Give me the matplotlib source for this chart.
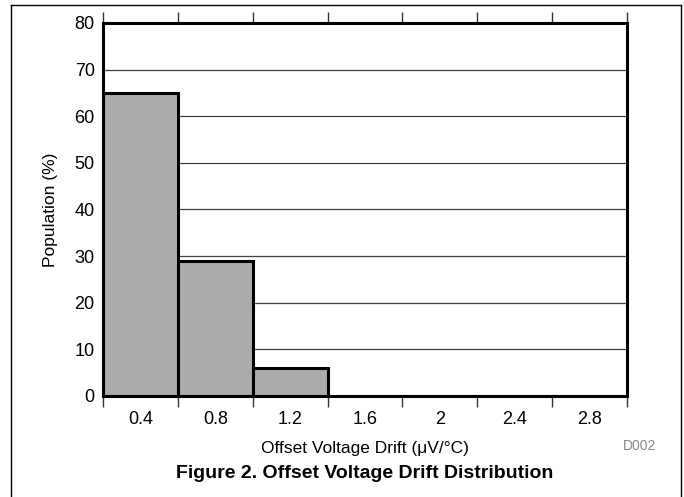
import numpy as np
import matplotlib.pyplot as plt
from matplotlib.lines import Line2D

plt.rcParams['font.family'] = ['Liberation Sans', 'DejaVu Sans']

# histogram bins (uV/degC) and population per bin (%)
bin_edges = [0.2, 0.6, 1.0, 1.4, 1.8, 2.2, 2.6, 3.0]
population = [65, 29, 6, 0, 0, 0, 0]
center_labels = ['0.4', '0.8', '1.2', '1.6', '2', '2.4', '2.8']
y_ticks = [0, 10, 20, 30, 40, 50, 60, 70, 80]

fig = plt.figure(figsize=(6.84, 4.97), dpi=100)
ax = fig.add_axes([103 / 684, 1 - 396 / 497, 524 / 684, 373 / 497])

edges = np.array(bin_edges)
widths = np.diff(edges)
centers = edges[:-1] + widths / 2

ax.set_axisbelow(True)
for y in y_ticks[1:-1]:
    ax.axhline(y, color='#404040', lw=0.9, zorder=0)

ax.bar(edges[:-1], population, width=widths, align='edge',
       color='#ababab', edgecolor='black', linewidth=2.2, zorder=2)

ax.set_xlim(edges[0], edges[-1])
ax.set_ylim(0, 80)

# edge ticks without labels, labels at bin centres
ax.set_xticks(edges)
ax.set_xticklabels([])
ax.set_xticks(centers, minor=True)
ax.set_xticklabels(center_labels, minor=True)
ax.tick_params(axis='x', which='major', direction='out', length=8,
               width=1, color='#333333', top=True, bottom=True)
ax.tick_params(axis='x', which='minor', length=0, pad=11, labelsize=13)

ax.set_yticks(y_ticks)
ax.tick_params(axis='y', length=0, pad=6, labelsize=13)

for side in ax.spines.values():
    side.set_linewidth(2.2)

ax.set_ylabel('Population (%)', fontsize=12.5, labelpad=12)
ax.set_xlabel('Offset Voltage Drift (\u03bcV/\u00b0C)', fontsize=12.5, labelpad=9)

fig.text(623 / 684, 1 - 446 / 497, 'D002', fontsize=10, color='#888888',
         ha='left', va='center')
fig.text(365 / 684, 1 - 474 / 497, 'Figure 2. Offset Voltage Drift Distribution',
         fontsize=14, fontweight='bold', ha='center', va='center')

# outer frame around the figure block
x0, x1, yt = 10.5 / 684, 680.5 / 684, 1 - 4.5 / 497
for xs, ys in [([x0, x0], [0, yt]), ([x0, x1], [yt, yt]), ([x1, x1], [yt, 0])]:
    fig.add_artist(Line2D(xs, ys, transform=fig.transFigure, color='black', lw=1))

fig.savefig('out.png', dpi=100)
